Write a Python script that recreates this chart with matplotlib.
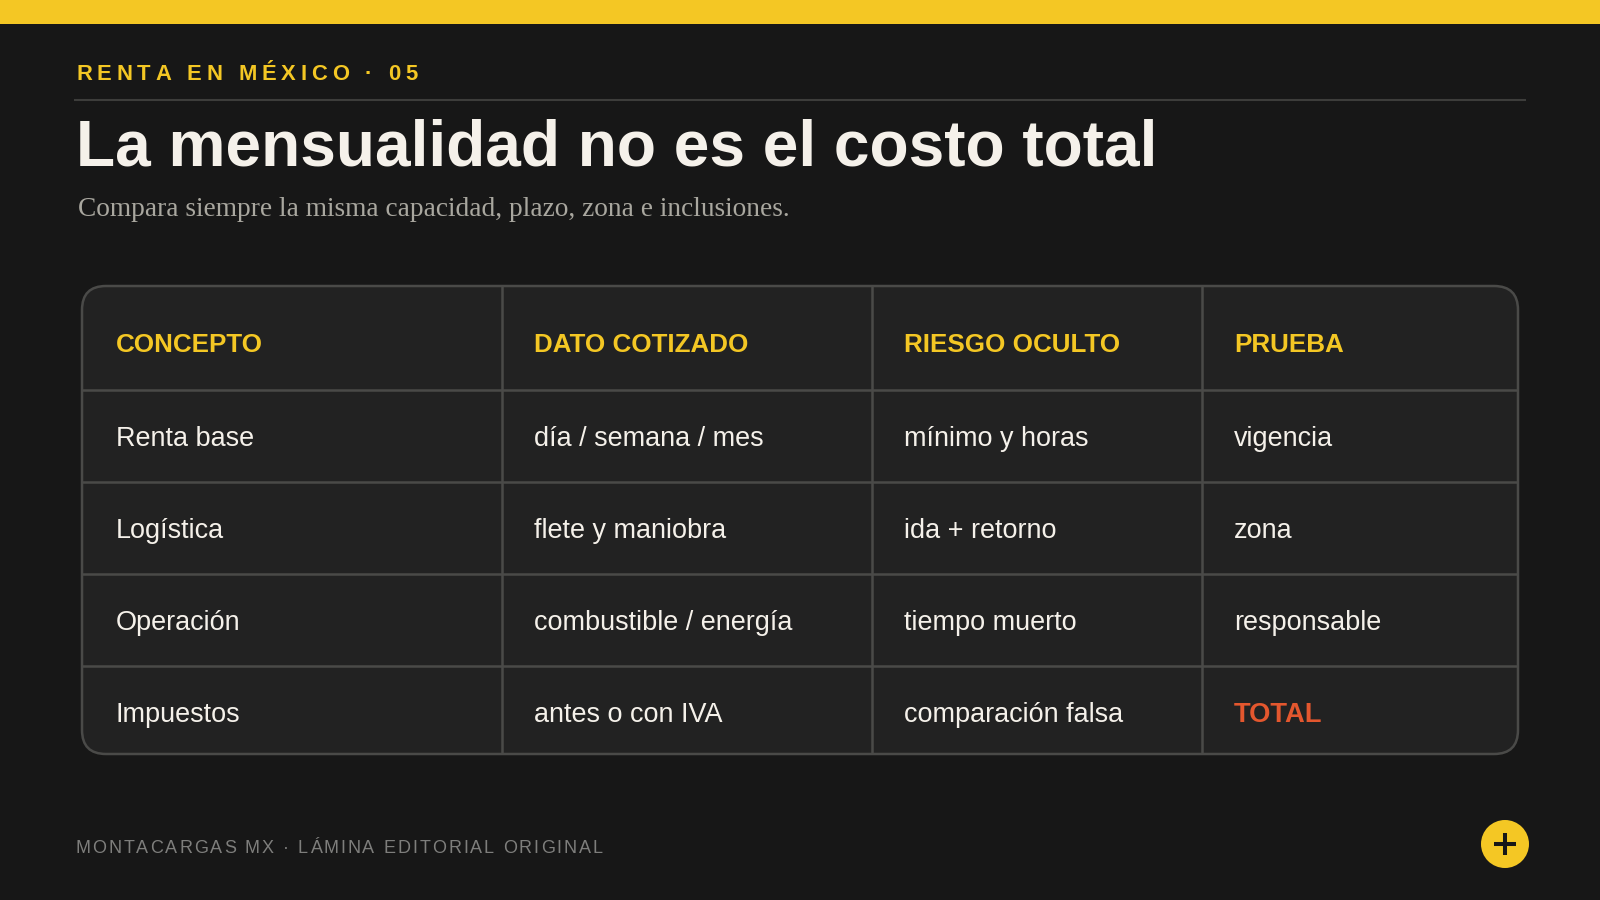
import matplotlib
matplotlib.use('Agg')
import matplotlib.pyplot as plt
from matplotlib.font_manager import findfont, get_font
from matplotlib.ft2font import LoadFlags
from matplotlib.patches import Circle, FancyBboxPatch, Rectangle
from matplotlib.text import Text

EYEBROW = 'RENTA EN MÉXICO · 05'
TITLE = 'La mensualidad no es el costo total'
SUBTITLE = 'Compara siempre la misma capacidad, plazo, zona e inclusiones.'
FOOTER = 'MONTACARGAS MX · LÁMINA EDITORIAL ORIGINAL'

headers = ['CONCEPTO', 'DATO COTIZADO', 'RIESGO OCULTO', 'PRUEBA']
concepto = ['Renta base', 'Logística', 'Operación', 'Impuestos']
dato = ['día / semana / mes', 'flete y maniobra', 'combustible / energía', 'antes o con IVA']
riesgo = ['mínimo y horas', 'ida + retorno', 'tiempo muerto', 'comparación falsa']
prueba = ['vigencia', 'zona', 'responsable', 'TOTAL']

BG = '#171717'
PANEL = '#222222'
GRID = '#4A4A48'
YELLOW = '#F4C724'
WHITE = '#F5F1EA'
GREY = '#A9A79F'
FOOT = '#7E7E7C'
ORANGE = '#E4572E'

SANS = 'Liberation Sans'
SERIF = 'Liberation Serif'

# table layout, in pixels
LEFT, RIGHT, TOP, BOTTOM = 82, 1518, 286, 754
COL_LINES = [501.5, 871.5, 1201.5]
ROW_LINES = [390, 481.5, 574, 666]
COL_TEXT = [116, 534, 904, 1234]
HEAD_BASE = 352
ROW_BASE = [446, 538, 630, 722]


def px(size):
    return size * 0.72


class SpacedText(Text):
    # one text object, drawn glyph by glyph because matplotlib has no letter spacing
    def __init__(self, *args, spacing=0, **kwargs):
        super().__init__(*args, **kwargs)
        self.spacing = spacing

    def draw(self, renderer):
        gc = renderer.new_gc()
        gc.set_foreground(self.get_color())
        gc.set_antialiased(True)
        prop = self.get_fontproperties()
        font = get_font(findfont(prop))
        font.set_size(prop.get_size_in_points(), renderer.dpi)
        x, y = self.get_transform().transform(self.get_position())
        y = renderer.height - y
        for ch in self.get_text():
            renderer.draw_text(gc, x, y, ch, prop, 0)
            glyph = font.load_char(ord(ch), flags=LoadFlags.NO_HINTING)
            x += glyph.linearHoriAdvance / 65536 + self.spacing
        gc.restore()


def spaced(ax, x, y, s, size, spacing, color, weight='normal'):
    t = SpacedText(x, y, s, spacing=spacing, color=color, fontsize=px(size),
                   family=SANS, weight=weight, transform=ax.transData)
    ax.add_artist(t)


fig = plt.figure(figsize=(16, 9), dpi=100, facecolor=BG)
ax = fig.add_axes([0, 0, 1, 1])
ax.set_xlim(0, 1600)
ax.set_ylim(900, 0)
ax.axis('off')

ax.add_patch(Rectangle((0, 0), 1600, 24, facecolor=YELLOW, edgecolor='none'))
ax.plot([74, 1526], [100, 100], color='#3D3D3B', lw=1.5, solid_capstyle='butt')

spaced(ax, 76, 80, EYEBROW, 22, 4.84, YELLOW, 'bold')
ax.text(76, 166, TITLE, color=WHITE, fontsize=px(64), family=SANS, weight='bold', va='baseline')
ax.text(78, 216, SUBTITLE, color=GREY, fontsize=px(27.4), family=SERIF, va='baseline')

R = 24
panel = FancyBboxPatch((LEFT + R, TOP + R), RIGHT - LEFT - 2 * R, BOTTOM - TOP - 2 * R,
                       boxstyle='round,pad=%d,rounding_size=%d' % (R, R),
                       facecolor=PANEL, edgecolor=GRID, lw=1.8, zorder=2)
ax.add_patch(panel)
for x in COL_LINES:
    ax.plot([x, x], [TOP, BOTTOM], color=GRID, lw=1.8, solid_capstyle='butt', zorder=3)
for y in ROW_LINES:
    ax.plot([LEFT, RIGHT], [y, y], color=GRID, lw=1.8, solid_capstyle='butt', zorder=3)

columns = [concepto, dato, riesgo, prueba]
for i, x in enumerate(COL_TEXT):
    ax.text(x, HEAD_BASE, headers[i], color=YELLOW, fontsize=px(26), family=SANS,
            weight='bold', va='baseline', zorder=4)
    for j, y in enumerate(ROW_BASE):
        label = columns[i][j]
        if label == 'TOTAL':
            ax.text(x, y, label, color=ORANGE, fontsize=px(27.4), family=SANS,
                    weight='bold', va='baseline', zorder=4)
        else:
            ax.text(x, y, label, color=WHITE, fontsize=px(27), family=SANS,
                    va='baseline', zorder=4)

spaced(ax, 75.5, 853, FOOTER, 18, 1.95, FOOT)

ax.add_patch(Circle((1505, 844), 24, facecolor=YELLOW, edgecolor='none', zorder=5))
ax.plot([1494, 1516], [844, 844], color=BG, lw=2.9, solid_capstyle='butt', zorder=6)
ax.plot([1505, 1505], [833, 855], color=BG, lw=2.9, solid_capstyle='butt', zorder=6)

fig.savefig('out.png', dpi=100, facecolor=BG)
